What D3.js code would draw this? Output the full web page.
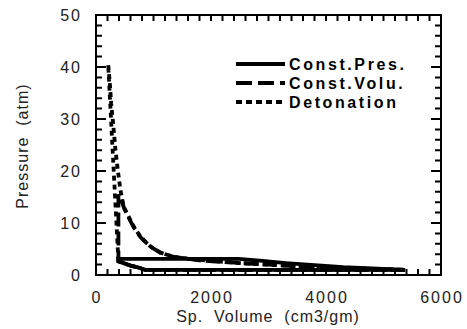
<!DOCTYPE html>
<html>
<head>
<meta charset="utf-8">
<script src="https://cdn.jsdelivr.net/npm/d3@7"></script>
<style>
body { margin: 0; background: #fff; }
text { font-family: "Liberation Sans", Arial, sans-serif; }
</style>
</head>
<body>
<div id="chart"></div>
<script>
var width = 467;
var height = 329;

// Const.Pres. cycle
var cpVol  = [5375, 3000, 850, 750, 600, 500, 390, 390, 1200, 2000, 2480, 2900, 3300, 3800, 4300, 4800, 5375];
var cpPres = [1.0, 1.0, 1.0, 1.4, 1.8, 2.2, 2.6, 3.1, 3.1, 3.1, 3.1, 2.7, 2.3, 1.9, 1.5, 1.25, 1.0];

// Const.Volu. cycle
var cvVol  = [5375, 3000, 850, 750, 600, 500, 390, 390, 440, 490, 570, 660, 780, 950, 1120, 1350, 1800, 2500, 3000, 3600, 4300, 5375];
var cvPres = [1.0, 1.0, 1.0, 1.4, 1.8, 2.2, 2.6, 15.5, 14.5, 12.8, 11.0, 9.1, 7.2, 5.4, 4.3, 3.5, 2.8, 2.3, 2.0, 1.6, 1.3, 1.0];

// Detonation cycle
var detVol  = [5375, 3000, 850, 750, 600, 500, 390, 212, 240, 264, 299, 339, 379, 425, 483, 570, 656, 773, 946, 1120, 1346, 1800, 2500, 3000, 3600, 4300, 5375];
var detPres = [1.0, 1.0, 1.0, 1.4, 1.8, 2.2, 2.6, 40.5, 37, 33, 29, 24, 20.2, 16.3, 13.1, 11.2, 9.3, 7.4, 5.5, 4.3, 3.5, 2.9, 2.3, 2.0, 1.6, 1.3, 1.0];

var seriesNames = ["Const.Pres.", "Const.Volu.", "Detonation"];
var xTickLabels = [0, 2000, 4000, 6000];
var yTickLabels = [0, 10, 20, 30, 40, 50];

var svg = d3.select("#chart")
    .append("svg")
    .attr("width", width)
    .attr("height", height);

var x = d3.scaleLinear().domain([0, 6000]).range([96, 441]);
var y = d3.scaleLinear().domain([0, 50]).range([275, 15]);

// frame
svg.append("rect")
    .attr("x", x(0)).attr("y", y(50))
    .attr("width", x(6000) - x(0)).attr("height", y(0) - y(50))
    .attr("fill", "none").attr("stroke", "#000").attr("stroke-width", 2);

// ticks, pointing inward, drawn on all four sides as one path
var minorX = d3.range(0, 6001, 200);
var minorY = d3.range(0, 51, 2);

var tickPath = d3.path();
minorX.forEach(function (v) {
    tickPath.moveTo(x(v), y(0) + 1); tickPath.lineTo(x(v), y(0) - 6);
    tickPath.moveTo(x(v), y(50) - 1); tickPath.lineTo(x(v), y(50) + 6);
});
minorY.forEach(function (v) {
    var len = v % 10 == 0 ? 10 : 6;
    tickPath.moveTo(x(0) - 1, y(v)); tickPath.lineTo(x(0) + len, y(v));
    tickPath.moveTo(x(6000) + 1, y(v)); tickPath.lineTo(x(6000) - len, y(v));
});
svg.append("path")
    .attr("d", tickPath.toString())
    .attr("fill", "none")
    .attr("stroke", "#000")
    .attr("stroke-width", 2);

// tick labels
svg.append("g").selectAll("text")
    .data(xTickLabels)
    .enter().append("text")
    .attr("x", d => x(d) + 1)
    .attr("y", 303)
    .attr("text-anchor", "middle")
    .style("font-size", "16px")
    .style("letter-spacing", "2px")
    .attr("fill", "#222")
    .text(d => d);

svg.append("g").selectAll("text")
    .data(yTickLabels)
    .enter().append("text")
    .attr("x", 82)
    .attr("y", d => y(d) + 6)
    .attr("text-anchor", "end")
    .style("font-size", "16px")
    .style("letter-spacing", "2px")
    .attr("fill", "#222")
    .text(d => d);

// axis titles
svg.append("text")
    .attr("x", 268)
    .attr("y", 322)
    .attr("text-anchor", "middle")
    .style("font-size", "16px")
    .style("letter-spacing", "1px")
    .style("white-space", "pre")
    .attr("fill", "#222")
    .text("Sp.  Volume  (cm3/gm)");

svg.append("text")
    .attr("transform", "translate(28,146) rotate(-90)")
    .attr("text-anchor", "middle")
    .style("font-size", "16px")
    .style("letter-spacing", "1px")
    .style("white-space", "pre")
    .attr("fill", "#222")
    .text("Pressure  (atm)");

// curves
var line = d3.line()
    .x(d => x(d[0]))
    .y(d => y(d[1]));

var dashes = ["none", "14,5", "5,4"];
var curves = [
    d3.zip(cpVol, cpPres),
    d3.zip(cvVol, cvPres),
    d3.zip(detVol, detPres)
];

svg.append("g").selectAll("path")
    .data(curves)
    .enter().append("path")
    .attr("d", line)
    .attr("fill", "none")
    .attr("stroke", "#000")
    .attr("stroke-width", 3.8)
    .attr("stroke-dasharray", (d, i) => dashes[i]);

// legend
var legend = svg.append("g")
    .selectAll("g")
    .data(seriesNames)
    .enter().append("g")
    .attr("transform", (d, i) => "translate(236," + (64 + i * 19) + ")");

legend.append("line")
    .attr("x1", 0).attr("x2", 49)
    .attr("stroke", "#000")
    .attr("stroke-width", 4)
    .attr("stroke-dasharray", (d, i) => i == 1 ? "16,6" : dashes[i] == "none" ? "none" : "6,4");

legend.append("text")
    .attr("x", 53)
    .attr("y", 6)
    .style("font-size", "16px")
    .style("font-weight", "bold")
    .style("letter-spacing", "2.6px")
    .text(d => d);
</script>
</body>
</html>
